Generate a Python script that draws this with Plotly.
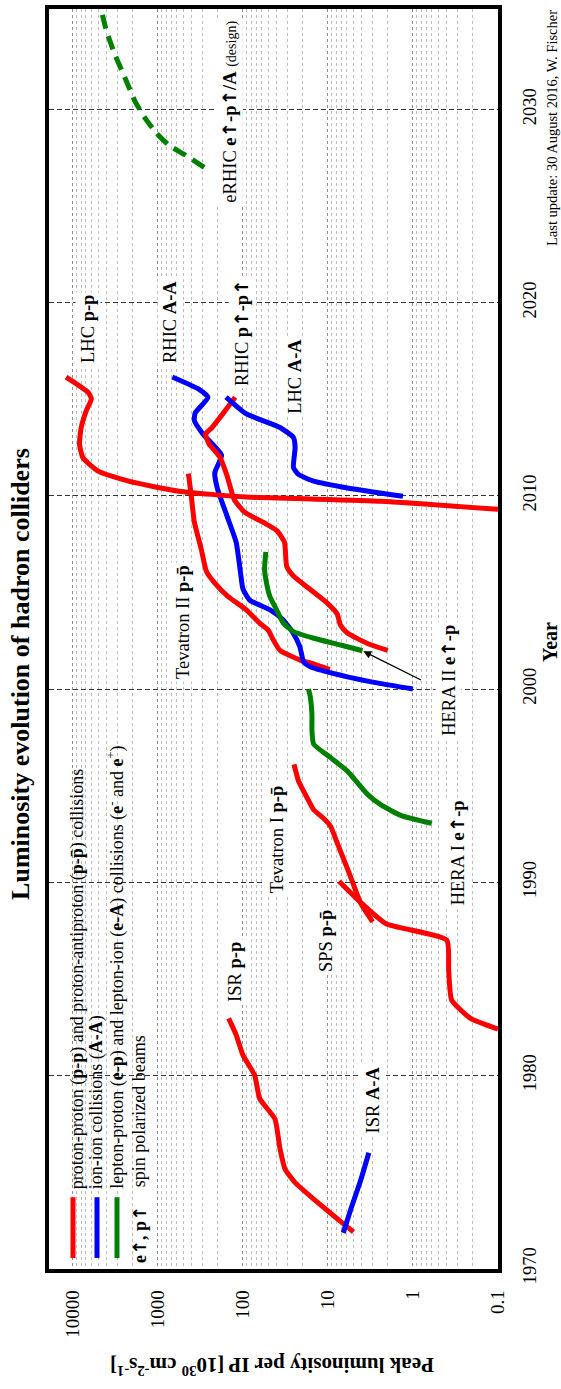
import numpy as np
import plotly.graph_objects as go

# ---------------- data: year vs peak luminosity per IP [1e30 cm^-2 s^-1]
isr_pp_year = [1971.9, 1972.3, 1973.6, 1974.45, 1975.15, 1976.2, 1977.75, 1978.8, 1980.0, 1981.05, 1981.65, 1982.1, 1982.95]
isr_pp_lumi = [5.0, 6.5, 14.7, 24.3, 31.9, 36.6, 42.0, 63.4, 72.6, 99.8, 111, 120, 147]

isr_aa_year = [1971.85, 1973.05, 1974.6, 1976.0]
isr_aa_lumi = [6.6, 5.4, 4.1, 3.3]

sps_year = [1982.4, 1982.95, 1983.9, 1985.45, 1987.0, 1987.85, 1988.9, 1990.05]
sps_lumi = [0.1, 0.21, 0.35, 0.38, 0.40, 2.07, 4.0, 7.4]

tev1_year = [1987.95, 1988.9, 1990.5, 1992.05, 1992.9, 1993.3, 1993.75, 1994.4, 1995.25, 1996.1]
tev1_lumi = [2.98, 4.1, 5.65, 7.8, 9.3, 11.2, 14.7, 17.7, 22.2, 25.0]

hera1_year = [1993.05, 1993.45, 1994.0, 1994.55, 1995.75, 1996.45, 1997.15, 1997.85, 1998.7, 1999.6, 2000.0]
hera1_lumi = [0.60, 1.37, 2.37, 3.42, 5.9, 9.3, 14.7, 15.4, 15.4, 16.1, 16.9]

tev2_year = [2001.0, 2001.3, 2001.5, 2002.0, 2002.55, 2003.05, 2003.4, 2004.1, 2004.8, 2005.5, 2006.1, 2007.25, 2008.65, 2010.1, 2011.15]
tev2_lumi = [9.5, 14.7, 21.2, 36.6, 44, 50.4, 63.2, 91, 150, 215, 269, 309, 372, 407, 437]

rhic_aa_year = [2000.0, 2000.28, 2000.63, 2001.15, 2001.41, 2002.2, 2002.9, 2003.6, 2004.1, 2004.6, 2005.2, 2005.8,
                2007.6, 2009.0, 2010.4, 2011.2, 2012.1, 2013.2, 2013.9, 2014.3, 2015.1, 2015.5, 2016.15]
rhic_aa_lumi = [1.0, 2.37, 5.9, 16.1, 19.3, 21.4, 25.7, 33.9, 47.9, 83.2, 100, 105,
                120, 155, 200, 214, 178, 295, 372, 363, 257, 324, 676]

rhic_pp_year = [2002.0, 2002.36, 2002.9, 2003.3, 2003.9, 2004.45, 2005.15, 2005.85, 2006.35, 2007.6, 2008.2, 2008.6,
                2009.15, 2009.8, 2011.1, 2012.0, 2012.7, 2013.2, 2013.5, 2014.4, 2015.1]
rhic_pp_lumi = [1.98, 3.42, 5.9, 7.1, 7.8, 10.2, 16.1, 25.4, 30.5, 32.4, 39.8, 56,
                95, 126, 155, 186, 251, 275, 234, 162, 123]

hera2_year = [2001.98, 2002.28, 2002.63, 2002.97, 2003.41, 2004.1, 2004.8, 2005.49, 2006.2, 2007.1]
hera2_lumi = [3.92, 7.1, 14.7, 25.4, 33.4, 40.1, 48.2, 52.7, 55.6, 53.7]

lhc_pp_year = [2009.3, 2009.72, 2009.94, 2010.24, 2010.76, 2011.28, 2011.98, 2012.67, 2013.54, 2014.41, 2015.02, 2015.37, 2016.15]
lhc_pp_lumi = [0.1, 2.37, 91, 565, 2218, 5047, 7603, 8337, 7962, 6934, 6053, 6637, 12000]

lhc_aa_year = [2009.98, 2010.41, 2010.76, 2011.11, 2011.46, 2012.5, 2013.02, 2013.54, 2014.24, 2015.11]
lhc_aa_lumi = [1.31, 5.9, 14.7, 22.2, 25.4, 24.3, 25.4, 36.6, 91, 158]

erhic_year = [2027.0, 2027.63, 2028.15, 2028.84, 2029.54, 2030.41, 2031.63, 2032.84, 2034.06, 2035.1, 2036.0]
erhic_lumi = [285, 471, 743, 1069, 1406, 1849, 2432, 3199, 4018, 4603, 5012]

lumi_ticks = [0.1, 1, 10, 100, 1000, 10000]
lumi_tick_labels = ["0.1", "1", "10", "100", "1000", "10000"]
year_ticks = [1970, 1980, 1990, 2000, 2010, 2020, 2030]

RED, BLUE, GREEN = "#ff0000", "#0000ff", "#008000"
FONT = "Liberation Serif, Times New Roman, serif"
UP = "<span style='font-family:DejaVu Sans'>\u2191</span>"
PBAR = "p\u0304"

fig = go.Figure()

series = [
    (isr_pp_year, isr_pp_lumi, RED, "solid"),
    (isr_aa_year, isr_aa_lumi, BLUE, "solid"),
    (sps_year, sps_lumi, RED, "solid"),
    (tev1_year, tev1_lumi, RED, "solid"),
    (hera1_year, hera1_lumi, GREEN, "solid"),
    (tev2_year, tev2_lumi, RED, "solid"),
    (rhic_aa_year, rhic_aa_lumi, BLUE, "solid"),
    (rhic_pp_year, rhic_pp_lumi, RED, "solid"),
    (hera2_year, hera2_lumi, GREEN, "solid"),
    (lhc_pp_year, lhc_pp_lumi, RED, "solid"),
    (lhc_aa_year, lhc_aa_lumi, BLUE, "solid"),
    (erhic_year, erhic_lumi, GREEN, "14px,8px"),
]
for yrs, lum, col, dash in series:
    fig.add_trace(go.Scatter(x=lum, y=yrs, mode="lines",
                             line=dict(color=col, width=5, dash=dash, shape="spline", smoothing=0.5),
                             showlegend=False, hoverinfo="skip"))

# ---- pixel -> paper helpers (plot area 49..498 x, 5..1269 y)
def px(xpix):
    return (xpix - 49) / 449.0

def py(ypix):
    return (1269 - ypix) / 1264.0

annos = []

def label(text, xpix, ypix, size=18.5, yanchor="middle", bg="white", angle=-90):
    annos.append(dict(text=text, x=px(xpix), y=py(ypix), xref="paper", yref="paper",
                      textangle=angle, showarrow=False, xanchor="center", yanchor=yanchor,
                      font=dict(family=FONT, size=size, color="black"),
                      bgcolor=bg, borderpad=2))

label("ISR <b>A-A</b>", 373, 1100)
label("ISR <b>p-p</b>", 235, 971)
label("SPS <b>p-" + PBAR + "</b>", 326, 940)
label("Tevatron I <b>p-" + PBAR + "</b>", 277, 838)
label("HERA I <b>e" + UP + "-p</b>", 457, 852)
label("Tevatron II <b>p-" + PBAR + "</b>", 183, 620)
label("HERA II <b>e" + UP + "-p</b>", 449, 679)
label("LHC <b>p-p</b>", 88, 326)
label("RHIC <b>A-A</b>", 170, 319)
label("RHIC <b>p" + UP + "-p" + UP + "</b>", 242, 330)
label("LHC <b>A-A</b>", 295, 374)
label("eRHIC <b>e" + UP + "-p" + UP + "/A</b> <span style='font-size:14px'>(design)</span>", 230, 108)

# legend texts
label("proton-proton (<b>p-p</b>) and proton-antiproton (<b>p-" + PBAR + "</b>) collisions", 77, 1192, size=18, yanchor="bottom", bg=None)
label("ion-ion collisions (<b>A-A</b>)", 96, 1192, size=18, yanchor="bottom", bg=None)
label("lepton-proton (<b>e-p</b>) and lepton-ion (<b>e-A</b>) collisions (<b>e</b><sup>-</sup> and <b>e</b><sup>+</sup>)", 116, 1192, size=18, yanchor="bottom", bg=None)
label("spin polarized beams", 139, 1190, size=18, yanchor="bottom", bg=None)
label("<b>e" + UP + ", p" + UP + "</b>", 139, 1235, size=18, bg=None)

# arrow to HERA II
annos.append(dict(x=float(np.log10(hera2_lumi[0])), y=hera2_year[0], xref="x", yref="y",
                  ax=60, ay=30, axref="pixel", ayref="pixel", text="", showarrow=True,
                  arrowhead=2, arrowsize=1.2, arrowwidth=1.3, arrowcolor="black", standoff=1))

# titles
label("<b>Luminosity evolution of hadron colliders</b>", 21, 672, size=26, bg=None)
label("<b>Year</b>", 550, 640, size=20, bg=None)
annos.append(dict(text="Last update: 30 August 2016, W. Fischer", x=px(552), y=py(4),
                  xref="paper", yref="paper", textangle=-90, showarrow=False,
                  xanchor="center", yanchor="top",
                  font=dict(family=FONT, size=14.5, color="black")))
label("<b>Peak luminosity per IP [10<sup>30</sup> cm<sup>-2</sup>s<sup>-1</sup>]</b>", 272, 1366,
      size=21, bg=None, angle=180)

shapes = [
    dict(type="rect", xref="paper", yref="paper", x0=0, x1=px(148), y0=py(1262), y1=py(745),
         fillcolor="white", line=dict(width=0), layer="between"),
]
for xx, col in [(73, RED), (97, BLUE), (117, GREEN)]:
    shapes.append(dict(type="line", xref="paper", yref="paper", x0=px(xx), x1=px(xx),
                       y0=py(1258), y1=py(1197), line=dict(color=col, width=5)))

fig.update_layout(
    width=561, height=1389,
    margin=dict(l=49, r=63, t=5, b=120),
    plot_bgcolor="white", paper_bgcolor="white",
    font=dict(family=FONT, color="black"),
    annotations=annos, shapes=shapes,
)
fig.update_xaxes(type="log", range=[4.28, -1.0005],
                 tickmode="array", tickvals=lumi_ticks, ticktext=lumi_tick_labels,
                 tickangle=-90, tickfont=dict(family=FONT, size=19),
                 showgrid=True, gridcolor="#8c8c8c", griddash="dot", gridwidth=1,
                 minor=dict(showgrid=True, gridcolor="#bdbdbd", griddash="dot", gridwidth=1, dtick="D1"),
                 showline=True, mirror=True, linecolor="black", linewidth=3.5,
                 ticks="", ticklabelstandoff=10, zeroline=False)
fig.update_yaxes(range=[1969.98, 2035.2], side="right",
                 tickmode="array", tickvals=year_ticks,
                 tickangle=-90, tickfont=dict(family=FONT, size=18.5),
                 showgrid=True, gridcolor="#333333", griddash="5px,3px", gridwidth=1,
                 showline=True, mirror=True, linecolor="black", linewidth=3.5,
                 ticks="", ticklabelstandoff=12, zeroline=False)

fig.write_html("out.html", config={"displayModeBar": False},
               post_script="document.body.style.margin='0px';document.body.style.overflow='hidden';")
